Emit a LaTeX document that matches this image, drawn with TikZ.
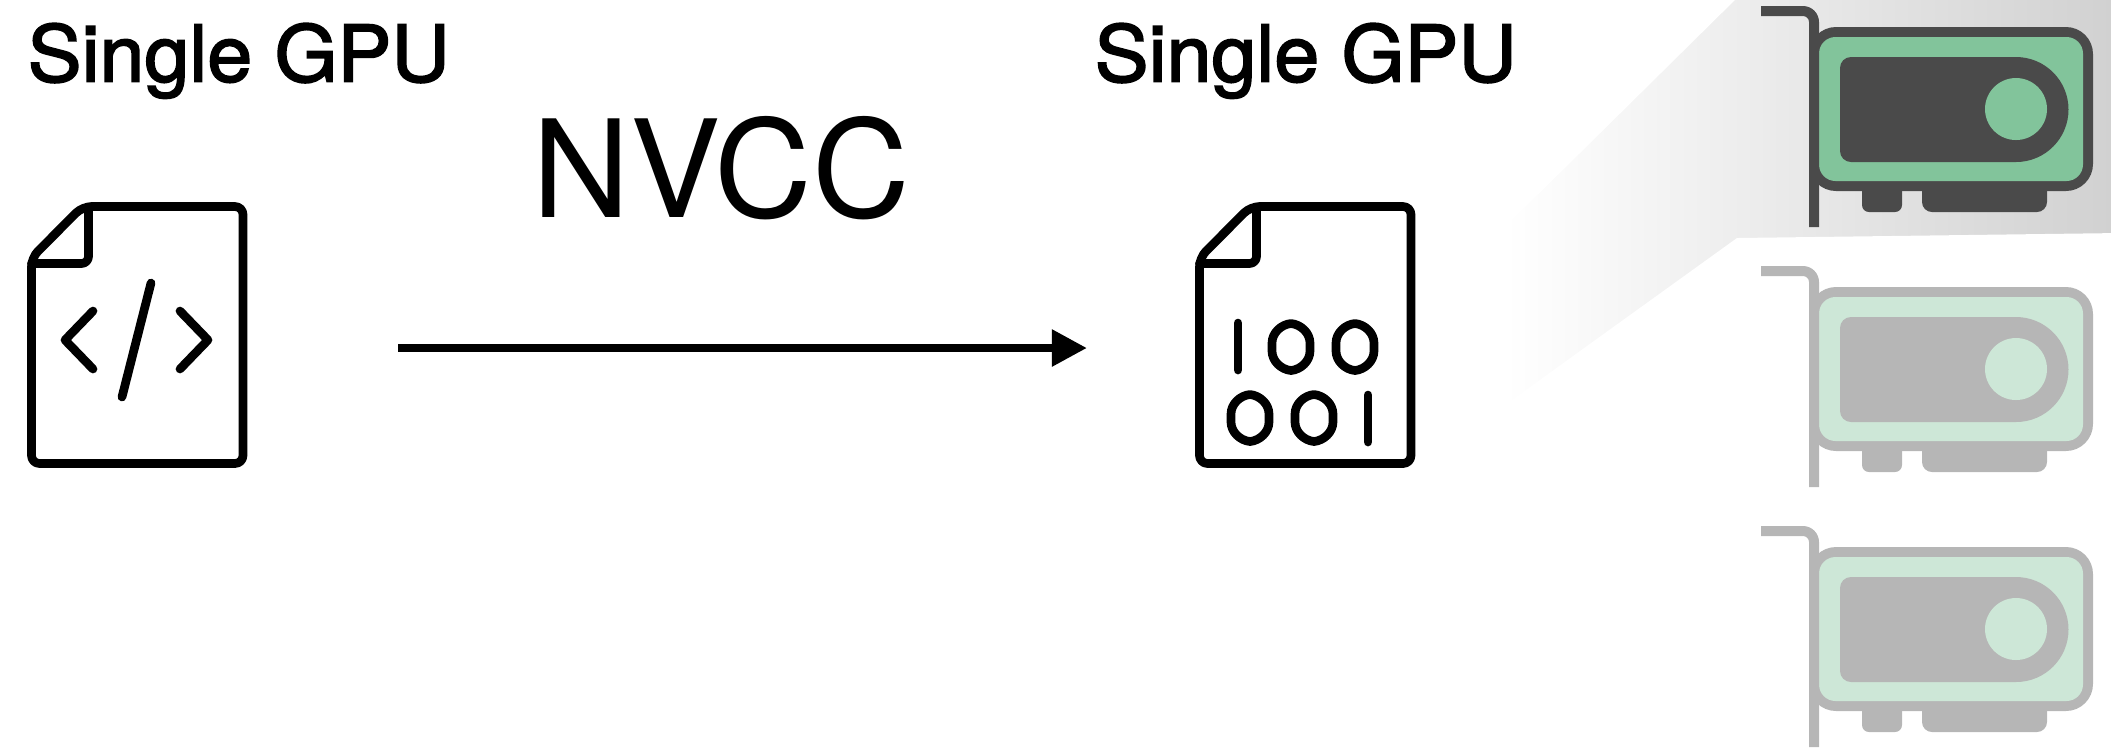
\documentclass[tikz,border=0pt]{standalone}
\usepackage{xcolor}
\usepackage{fontspec}
\setmainfont{TeX Gyre Heros}
\newfontfamily\titlefont[FakeBold=2.2,FakeStretch=1.035]{TeX Gyre Heros}
\usetikzlibrary{positioning,arrows.meta}
\definecolor{cardgreen}{HTML}{82C49B}
\definecolor{carddark}{HTML}{4A4A4A}
\definecolor{fadegreen}{HTML}{CDE7D7}
\definecolor{fadedark}{HTML}{B6B6B6}
\tikzset{
  iconline/.style={line width=2.47pt, line join=round, line cap=round},
  title/.style={font=\titlefont\fontsize{22.2}{26}\selectfont, inner sep=0pt, anchor=base west},
  pics/docsheet/.style={code={
    \draw[iconline, rounded corners=0.08cm] (0,300) -- (0,463.5) -- (211.5,463.5)
      -- (211.5,206.5) [rounded corners=0.09cm] -- (51,206.5) -- (0,257.7) -- cycle;
    \draw[iconline, rounded corners=0.07cm] (57,208) -- (57,263.5) -- (0,263.5);
  }},
  pics/bitzero/.style={code={
    \draw[iconline] (0,-23.5) .. controls (10,-22.5) and (19,-14) .. (19,-4) -- (19,4)
      .. controls (19,14) and (10,22.5) .. (0,23.5) .. controls (-10,22.5) and (-19,14) .. (-19,4)
      -- (-19,-4) .. controls (-19,-14) and (-10,-22.5) .. (0,-23.5) -- cycle;
  }},
  pics/gpucard/.style n args={2}{code={
    \fill[#2,rounded corners=0.27cm] (1809,27) rectangle (2093,191);
    \fill[#1,rounded corners=0.165cm] (1819,37) rectangle (2083,181);
    \fill[#2] (1761,6) -- (1803,6) arc (-90:0:16) -- (1819,227) -- (1809,227)
      -- (1809,22) arc (0:-90:6) -- (1761,16) -- cycle;
    \fill[#2] (1851,57) -- (2016,57) arc (-90:90:52.5) -- (1851,162)
      arc (90:180:11) -- (1840,68) arc (180:270:11) -- cycle;
    \fill[#1] (2016,109) circle (31);
    \fill[#2] (1862,188) -- (1862,205) arc (180:90:7) -- (1895,212) arc (90:0:7) -- (1902,188) -- cycle;
    \fill[#2] (1922,188) -- (1922,202) arc (180:90:10) -- (2037,212) arc (90:0:10) -- (2047,188) -- cycle;
  }}
}
\begin{document}
\begin{tikzpicture}[x=0.01cm,y=-0.01cm]
  \useasboundingbox (0,0) rectangle (2111,747);
  % backdrop
  \shade[left color=white,right color=black!18] (1505,0) rectangle (2111,405);
  \fill[white] (1500,-10) -- (1745,-10) -- (1500,232) -- cycle;
  \fill[white] (1500,420) -- (1500,408.6) -- (1737,238) -- (2120,233) -- (2120,420) -- cycle;
  % headings
  \node[title] (srctitle) at (27,81.5) {Single GPU};
  \node[title] (dsttitle) at (1094,81.5) {Single GPU};
  \node[inner sep=0pt, anchor=base west, font=\fontsize{38.5}{44}\selectfont] (compiler) at (532,217) {NVCC};
  % source file
  \pic at (31.5,0) {docsheet};
  \draw[iconline] (93,311) -- (65,340) -- (93,369);
  \draw[iconline] (180,311) -- (208,340) -- (180,369);
  \draw[iconline] (151,283) -- (122,397);
  % binary file
  \pic at (1199.5,0) {docsheet};
  \draw[iconline] (1238,323) -- (1238,370);
  \pic at (1291,347) {bitzero};
  \pic at (1355,347) {bitzero};
  \pic at (1250,418) {bitzero};
  \pic at (1314,418) {bitzero};
  \draw[iconline] (1368,395) -- (1368,442);
  % arrow
  \coordinate (flowstart) at (398,348);
  \coordinate (flowend) at (1087,348);
  \draw[line width=0.083cm, -{Triangle[length=0.35cm,width=0.35cm]}] (flowstart) -- (flowend);
  % gpus
  \pic at (0,0) {gpucard={cardgreen}{carddark}};
  \pic at (0,260) {gpucard={fadegreen}{fadedark}};
  \pic at (0,520) {gpucard={fadegreen}{fadedark}};
\end{tikzpicture}
\end{document}
